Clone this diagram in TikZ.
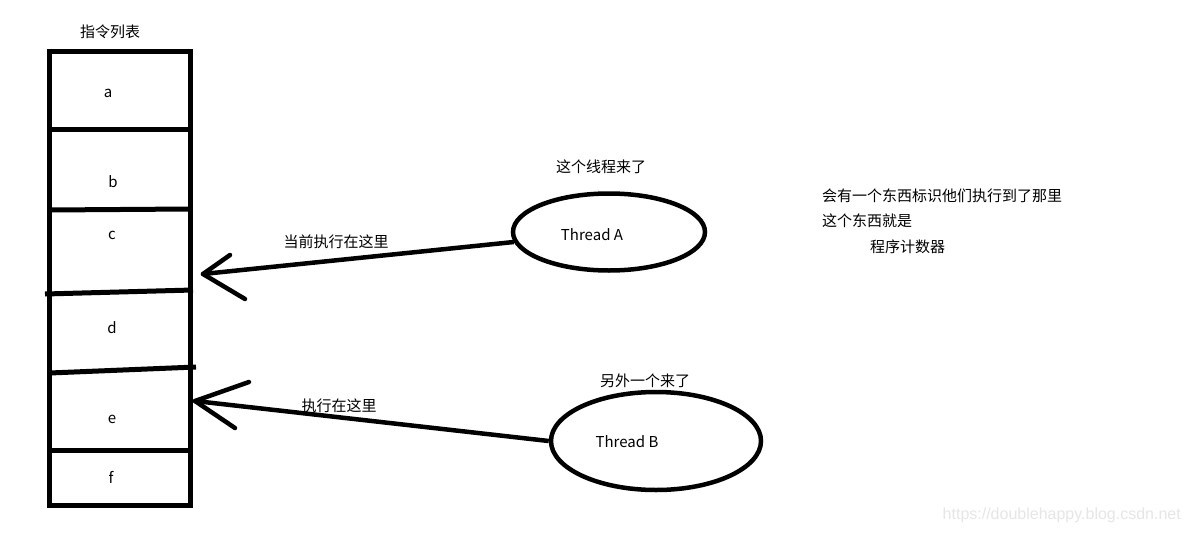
\documentclass[tikz,border=0pt]{standalone}
\usepackage{fontspec}
\setmainfont{Noto Sans CJK SC}
\usetikzlibrary{shapes.geometric}
\definecolor{wm}{HTML}{E6E6E6}
\tikzset{
  thick5/.style={line width=5pt},
  txt/.style={font=\fontsize{15}{17}\selectfont, inner sep=0pt},
  thr/.style={draw, ellipse, line width=4.5pt, inner sep=0pt},
  conn/.style={line width=4.5pt},
  barb/.style={line width=4.5pt, line cap=round},
}
\begin{document}
\begin{tikzpicture}[x=1pt,y=-1pt]
\useasboundingbox[fill=white] (0,0) rectangle (1191,533);
% instruction list box
\draw[thick5] (49.5,51) rectangle (190,505);
\draw[thick5] (49.5,129) -- (190,129);
\draw[thick5] (49.5,210) -- (190,209);
\draw[thick5] (45,294) -- (193,290);
\draw[thick5] (49.5,373) -- (196,367);
\draw[thick5] (49.5,450) -- (190,450);
\node[txt] (title) at (110,32) {指令列表};
\node[txt] (la) at (108,93) {a};
\node[txt] (lb) at (113,182) {b};
\node[txt] (lc) at (112,235) {c};
\node[txt] (ld) at (112,328) {d};
\node[txt] (le) at (112,419) {e};
\node[txt] (lf) at (111,477) {f};
% threads
\node[thr, minimum width=192pt, minimum height=77pt] (A) at (609,232) {};
\node[txt] (tA) at (592,235) {Thread A};
\node[thr, minimum width=210pt, minimum height=98pt] (B) at (656,441) {};
\node[txt] (tB) at (627,442) {Thread B};
\node[txt] (cA) at (601,167) {这个线程来了};
\node[txt] (cB) at (645,381) {另外一个来了};
% arrows
\coordinate (tipA) at (203,274);
\coordinate (a1) at (230,255);
\coordinate (a2) at (245,299);
\draw[conn] (A.186) -- (tipA);
\draw[barb] (tipA) -- (a1);
\draw[barb] (tipA) -- (a2);
\coordinate (tipB) at (195,401);
\coordinate (b1) at (249,382);
\coordinate (b2) at (235,428);
\draw[conn] (B.west) -- (tipB);
\draw[barb] (tipB) -- (b1);
\draw[barb] (tipB) -- (b2);
\node[txt] (lA) at (336,242) {当前执行在这里};
\node[txt] (lB) at (339,406) {执行在这里};
% note
\node[txt, anchor=west] (n1) at (822,196) {会有一个东西标识他们执行到了那里};
\node[txt, anchor=west] (n2) at (822,221) {这个东西就是};
\node[txt, anchor=west] (n3) at (870,247) {程序计数器};
\node[txt, anchor=east, text=wm, font=\fontsize{16}{18}\selectfont\fontspec{Liberation Sans}] (wmk) at (1181,515) {https://doublehappy.blog.csdn.net};
\end{tikzpicture}
\end{document}
